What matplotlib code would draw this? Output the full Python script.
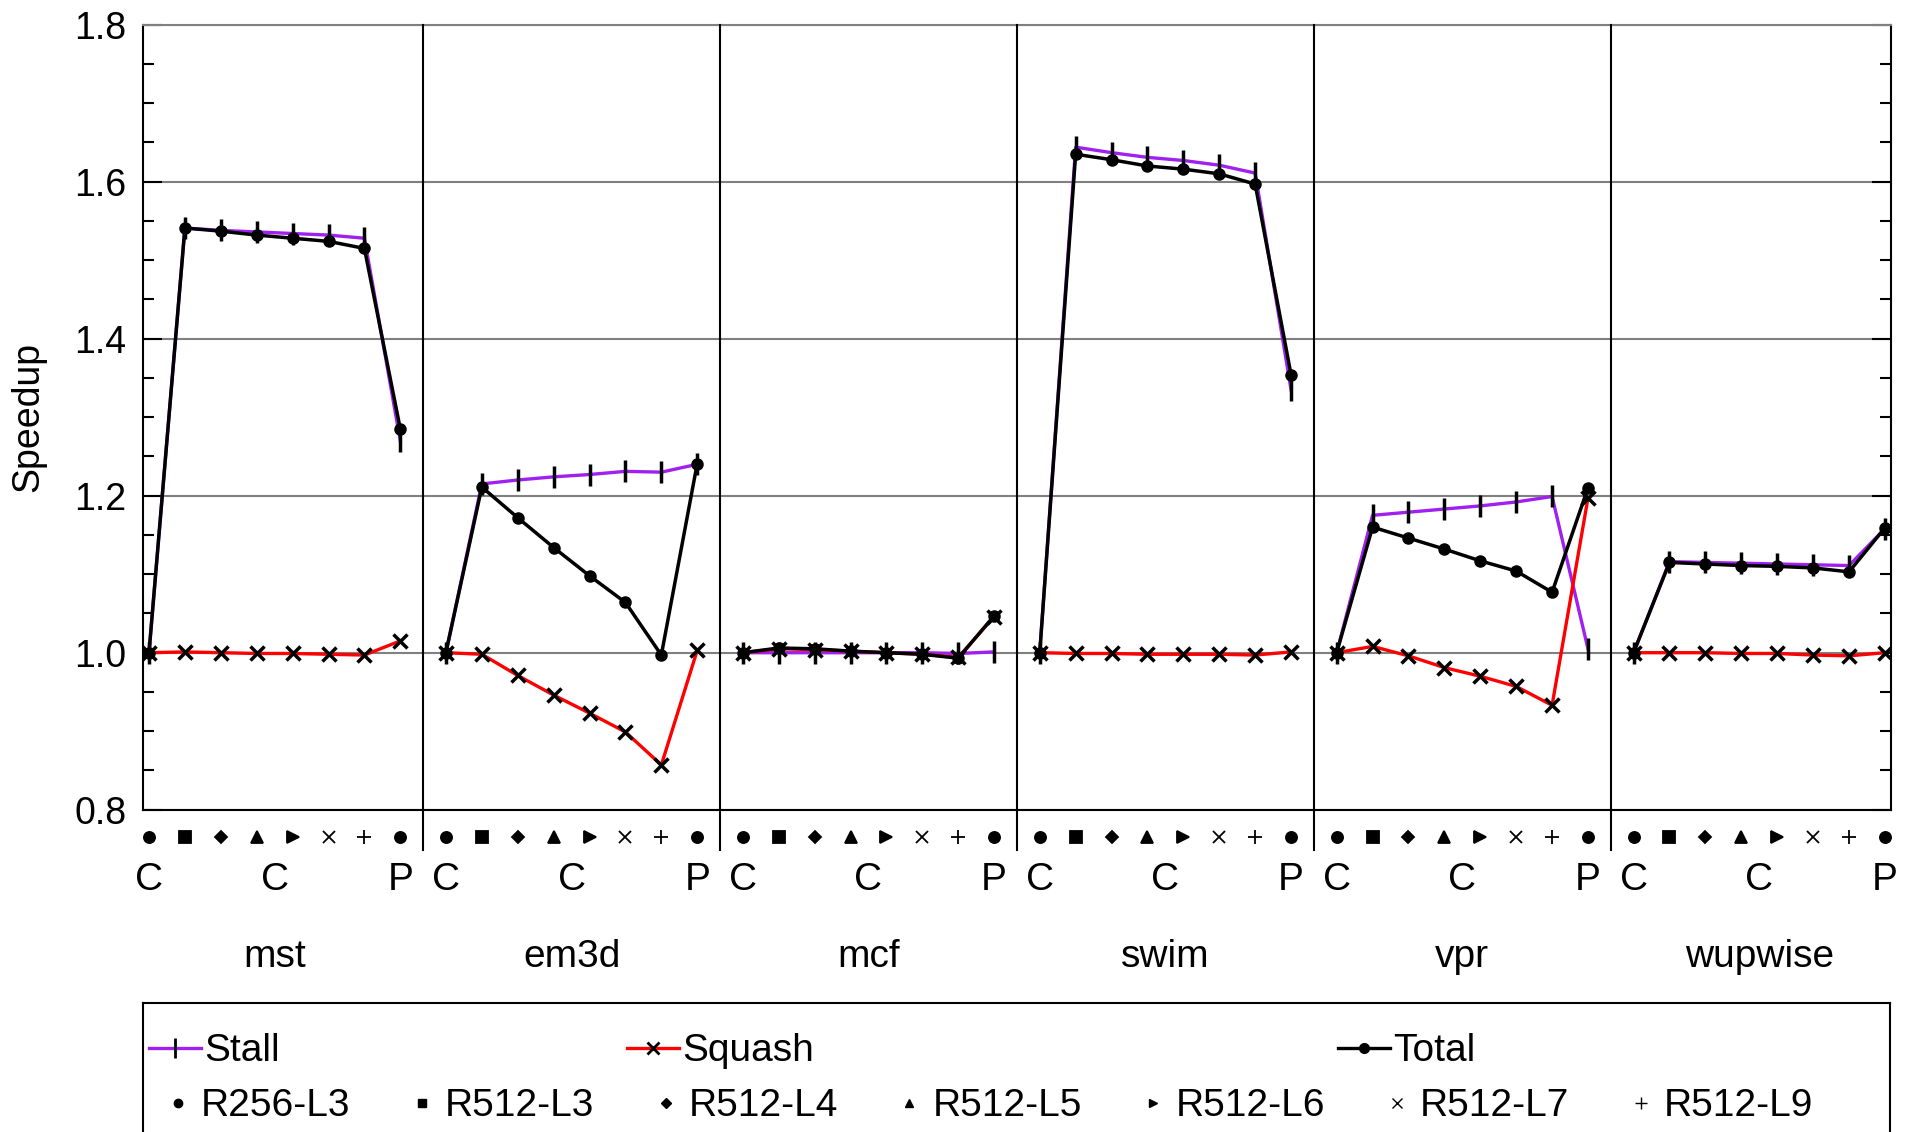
import matplotlib
matplotlib.use('Agg')
import matplotlib.pyplot as plt
import numpy as np
from matplotlib.ticker import MultipleLocator
from matplotlib.transforms import blended_transform_factory

plt.rcParams['font.family'] = ['Liberation Sans', 'DejaVu Sans']

benchmarks = ['mst', 'em3d', 'mcf', 'swim', 'vpr', 'wupwise']
configs = ['R256-L3', 'R512-L3', 'R512-L4', 'R512-L5', 'R512-L6', 'R512-L7', 'R512-L9']
axis_letters = ['C', 'C', 'P']
axis_letter_pos = [0, 3.5, 7]

stall = [
    [1.000, 1.541, 1.538, 1.536, 1.534, 1.532, 1.528, 1.270],
    [1.000, 1.215, 1.220, 1.224, 1.227, 1.231, 1.230, 1.240],
    [1.000, 1.000, 1.000, 1.000, 1.000, 1.000, 0.999, 1.001],
    [1.000, 1.644, 1.637, 1.631, 1.627, 1.621, 1.611, 1.335],
    [1.000, 1.175, 1.179, 1.183, 1.187, 1.192, 1.199, 1.005],
    [1.000, 1.116, 1.115, 1.114, 1.113, 1.112, 1.111, 1.158],
]
squash = [
    [1.000, 1.001, 1.000, 0.999, 0.999, 0.998, 0.997, 1.015],
    [1.000, 0.998, 0.971, 0.946, 0.923, 0.899, 0.857, 1.003],
    [1.000, 1.005, 1.004, 1.002, 1.000, 0.998, 0.994, 1.046],
    [1.000, 0.999, 0.999, 0.998, 0.998, 0.998, 0.997, 1.001],
    [1.000, 1.008, 0.996, 0.981, 0.970, 0.957, 0.933, 1.197],
    [1.000, 1.000, 1.000, 0.999, 0.999, 0.997, 0.996, 1.000],
]
total = [
    [1.000, 1.541, 1.537, 1.532, 1.528, 1.524, 1.515, 1.285],
    [1.000, 1.211, 1.172, 1.134, 1.098, 1.064, 0.997, 1.241],
    [1.000, 1.006, 1.005, 1.002, 1.000, 0.998, 0.993, 1.047],
    [1.000, 1.635, 1.628, 1.620, 1.616, 1.610, 1.597, 1.354],
    [1.000, 1.160, 1.146, 1.132, 1.117, 1.104, 1.077, 1.210],
    [1.000, 1.115, 1.113, 1.111, 1.110, 1.108, 1.103, 1.159],
]

PURPLE = '#A020F0'
RED = '#FF0000'
GRID = '#808080'
FS = 28
FS_TICK = 27
G = 8.27          # group stride in x units
NPT = 8
row_markers = ['o', 's', 'D', '^', '>', 'x', '+', 'o']
row_msize = [8, 8, 6, 8, 8, 9, 10, 8]
leg_msize = [6, 6, 5, 6, 6, 7, 8]

W, H = 1914, 1132
fig = plt.figure(figsize=(W / 100, H / 100), dpi=100)
ax = fig.add_axes([143 / W, 1 - 809.7 / H, 1748 / W, 785 / H])

for g, name in enumerate(benchmarks):
    x = g * G + np.arange(NPT)
    ax.plot(x, stall[g], color=PURPLE, lw=2.4, marker='|', ms=16, mew=2.5,
            mec='black', zorder=3)
    ax.plot(x, squash[g], color=RED, lw=2.4, marker='x', ms=10, mew=2.5,
            mec='black', zorder=4)
    ax.plot(x, total[g], color='black', lw=2.5, marker='o', ms=8,
            mec='black', mfc='black', zorder=5)

ax.set_xlim(-0.167, 5 * G + 7 + 0.17)
ax.set_ylim(0.8, 1.8)
ax.set_xticks([])
ax.yaxis.set_major_locator(MultipleLocator(0.2))
ax.yaxis.set_minor_locator(MultipleLocator(0.05))
ax.tick_params(axis='y', which='both', direction='in', left=True, right=True,
               width=1.5, labelsize=FS_TICK, pad=12)
ax.tick_params(axis='y', which='major', length=14)
ax.tick_params(axis='y', which='minor', length=8)
ax.yaxis.set_major_formatter(matplotlib.ticker.FormatStrFormatter('%.1f'))
ax.grid(axis='y', which='major', color=GRID, lw=1.5)
ax.set_axisbelow(True)
for s in ['left', 'right', 'bottom']:
    ax.spines[s].set_linewidth(1.5)
ax.spines['top'].set_color(GRID)
ax.spines['top'].set_linewidth(1.5)
ax.set_ylabel('Speedup', fontsize=FS_TICK)
ax.yaxis.set_label_coords(-0.0555, 0.5)

trans = blended_transform_factory(ax.transData, ax.transAxes)
for g in range(1, len(benchmarks)):
    xs = g * G - (G - 7) / 2
    ax.plot([xs, xs], [1, -0.0513], color='black', lw=1.5, transform=trans,
            clip_on=False, zorder=6)

for g, name in enumerate(benchmarks):
    base = g * G
    for i, m in enumerate(row_markers):
        ax.plot([base + i], [-0.0344], transform=trans, ls='none', marker=m,
                ms=row_msize[i], color='black', mew=1.3, clip_on=False)
    for lab, p in zip(axis_letters, axis_letter_pos):
        ax.text(base + p, -0.089, lab, transform=trans, ha='center',
                va='center', fontsize=FS)
    ax.text(base + 3.5, -0.188, name, transform=trans, ha='center',
            va='center', fontsize=FS)

# legend box (pixel-mapped axes)
lax = fig.add_axes([143 / W, -0.05, 1747 / W, 0.05 + (H - 1003) / H])
lax.set_xlim(143, 1890)
lax.set_ylim(H + 0.05 * H, 1003)
lax.set_xticks([])
lax.set_yticks([])
for s in lax.spines.values():
    s.set_linewidth(1.5)

series_leg = [('Stall', PURPLE, '|', 14, 149), ('Squash', RED, 'x', 8, 627),
              ('Total', 'black', 'o', 6, 1338)]
for lab, col, m, ms, x0 in series_leg:
    lax.plot([x0, x0 + 52], [1048, 1048], color=col, lw=2.4)
    lax.plot([x0 + 26], [1048], marker=m, ms=ms, color='black', mew=2)
    lax.text(x0 + 55, 1051, lab, fontsize=FS, ha='left', va='center')

for k, c in enumerate(configs):
    mx = 178 + k * 243.8
    lax.plot([mx], [1103], marker=row_markers[k], ms=leg_msize[k],
             color='black', mew=1)
    lax.text(mx + 23, 1106, c, fontsize=FS, ha='left', va='center')

fig.savefig('out.png', dpi=100)
